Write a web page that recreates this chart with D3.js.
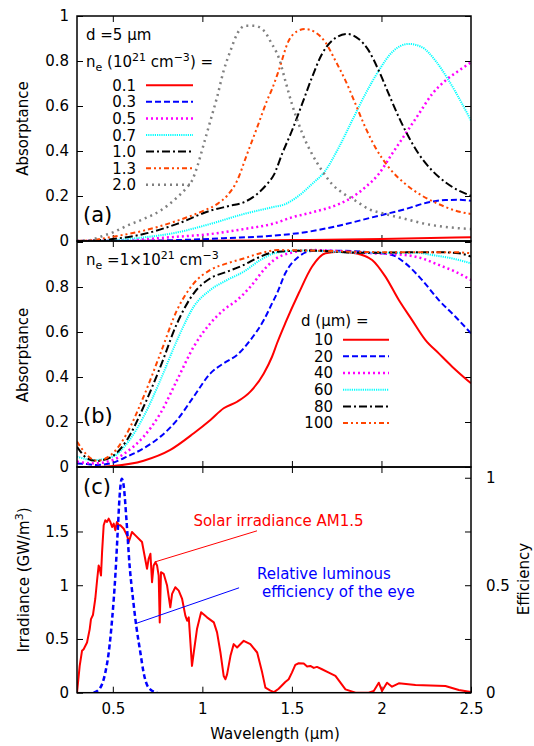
<!DOCTYPE html>
<html><head><meta charset="utf-8">
<script src="https://cdn.jsdelivr.net/npm/d3@7"></script>
<style>body{margin:0;background:#fff} text{font-family:"DejaVu Sans",sans-serif}</style>
</head><body><svg id="c" width="534" height="746"></svg>
<script>
// ---------- DATA ----------
const xTickVals = [0.5, 1, 1.5, 2];
const xTickLabels = [0.5, 1, 1.5, 2, 2.5];
const yTicksA = [0, 0.2, 0.4, 0.6, 0.8, 1];
const yTicksB = [0, 0.2, 0.4, 0.6, 0.8, 1];
const yLabelsB = [0, 0.2, 0.4, 0.6, 0.8];
const yTicksC = [0, 0.5, 1, 1.5];
const yTicksCR = [0, 0.25, 0.5, 0.75, 1];
const yLabelsCR = [0, 0.5, 1];

// panel (a): d = 5 um, n_e in 1e21 cm^-3
const neLabels = ["0.1", "0.3", "0.5", "0.7", "1.0", "1.3", "2.0"];
const a01 = [[0.30,0.0],[1.0,0.001],[1.5,0.004],[2.0,0.009],[2.5,0.017]];
const a03 = [[0.30,0.0],[0.50,0.0],[0.859,0.004],[1.138,0.013],[1.40,0.024],[1.575,0.039],[1.762,0.068],[1.948,0.105],[2.134,0.142],[2.264,0.172],[2.357,0.182],[2.43,0.183],[2.50,0.179]];
const a05 = [[0.30,0.0],[0.50,0.001],[0.859,0.019],[1.045,0.031],[1.231,0.053],[1.40,0.078],[1.50,0.105],[1.612,0.127],[1.762,0.164],[1.836,0.194],[1.91,0.239],[1.985,0.298],[2.059,0.387],[2.134,0.476],[2.208,0.564],[2.283,0.653],[2.357,0.713],[2.432,0.757],[2.50,0.794]];
const a07 = [[0.30,0.0],[0.356,0.0],[0.50,0.004],[0.672,0.016],[0.859,0.038],[1.045,0.076],[1.231,0.12],[1.389,0.15],[1.463,0.164],[1.538,0.201],[1.612,0.253],[1.687,0.313],[1.762,0.416],[1.836,0.535],[1.91,0.653],[1.985,0.757],[2.059,0.839],[2.153,0.876],[2.227,0.861],[2.302,0.801],[2.376,0.713],[2.451,0.609],[2.50,0.535]];
const a10 = [[0.30,0.0],[0.356,0.001],[0.50,0.009],[0.672,0.031],[0.859,0.076],[1.045,0.135],[1.157,0.157],[1.231,0.172],[1.306,0.209],[1.361,0.253],[1.40,0.295],[1.445,0.387],[1.50,0.49],[1.557,0.609],[1.612,0.727],[1.668,0.831],[1.724,0.89],[1.808,0.92],[1.873,0.898],[1.929,0.846],[1.985,0.757],[2.041,0.653],[2.097,0.55],[2.153,0.461],[2.208,0.387],[2.283,0.313],[2.357,0.261],[2.432,0.224],[2.50,0.201]];
const a13 = [[0.30,0.0],[0.356,0.002],[0.50,0.019],[0.672,0.046],[0.859,0.09],[1.008,0.135],[1.082,0.164],[1.138,0.201],[1.194,0.268],[1.25,0.387],[1.306,0.505],[1.361,0.624],[1.389,0.675],[1.426,0.757],[1.482,0.89],[1.529,0.932],[1.575,0.942],[1.631,0.927],[1.687,0.883],[1.743,0.801],[1.799,0.713],[1.855,0.609],[1.91,0.505],[1.966,0.416],[2.041,0.327],[2.134,0.253],[2.227,0.201],[2.32,0.164],[2.413,0.135],[2.50,0.12]];
const a20 = [[0.30,0.0],[0.356,0.002],[0.449,0.024],[0.50,0.038],[0.579,0.068],[0.672,0.098],[0.766,0.135],[0.859,0.194],[0.915,0.239],[0.942,0.268],[0.97,0.327],[1.008,0.431],[1.045,0.535],[1.082,0.639],[1.119,0.757],[1.157,0.846],[1.194,0.92],[1.24,0.957],[1.287,0.957],[1.343,0.935],[1.385,0.88],[1.426,0.816],[1.463,0.713],[1.50,0.609],[1.538,0.52],[1.575,0.446],[1.612,0.387],[1.668,0.313],[1.724,0.253],[1.78,0.215],[1.855,0.179],[1.929,0.142],[2.022,0.12],[2.134,0.098],[2.246,0.076],[2.376,0.061],[2.50,0.053]];

// panel (b): n_e = 1e21 cm^-3, d in um
const dLabels = ["10", "20", "40", "60", "80", "100"];
const b10 = [[0.30,0.0],[0.41,0.0],[0.50,0.004],[0.672,0.028],[0.821,0.076],[0.952,0.15],[1.045,0.209],[1.119,0.261],[1.194,0.29],[1.268,0.335],[1.343,0.416],[1.389,0.49],[1.417,0.55],[1.463,0.639],[1.538,0.772],[1.612,0.89],[1.687,0.95],[1.761,0.957],[1.855,0.95],[1.948,0.92],[2.022,0.846],[2.097,0.742],[2.171,0.653],[2.246,0.564],[2.32,0.505],[2.395,0.446],[2.50,0.372]];
const b20 = [[0.30,0.016],[0.356,0.013],[0.41,0.009],[0.50,0.019],[0.579,0.046],[0.672,0.083],[0.766,0.135],[0.859,0.209],[0.952,0.313],[1.045,0.416],[1.119,0.461],[1.194,0.498],[1.268,0.564],[1.343,0.653],[1.389,0.727],[1.417,0.772],[1.463,0.861],[1.538,0.935],[1.612,0.96],[1.761,0.961],[1.948,0.953],[2.059,0.942],[2.134,0.905],[2.227,0.831],[2.32,0.742],[2.413,0.668],[2.50,0.594]];
const b40 = [[0.30,0.024],[0.393,0.016],[0.50,0.031],[0.579,0.068],[0.672,0.135],[0.766,0.239],[0.859,0.387],[0.952,0.535],[1.045,0.639],[1.119,0.698],[1.194,0.742],[1.268,0.801],[1.343,0.876],[1.40,0.92],[1.50,0.953],[1.612,0.964],[1.948,0.95],[2.134,0.942],[2.227,0.927],[2.32,0.898],[2.413,0.868],[2.50,0.831]];
const b60 = [[0.30,0.046],[0.393,0.031],[0.50,0.046],[0.579,0.105],[0.672,0.224],[0.766,0.387],[0.859,0.564],[0.952,0.713],[1.045,0.787],[1.138,0.831],[1.231,0.868],[1.324,0.92],[1.417,0.953],[1.55,0.962],[1.9,0.952],[2.2,0.952],[2.283,0.942],[2.395,0.927],[2.50,0.905]];
const b80 = [[0.30,0.09],[0.356,0.039],[0.41,0.027],[0.50,0.049],[0.579,0.12],[0.672,0.268],[0.766,0.446],[0.859,0.639],[0.952,0.772],[1.045,0.839],[1.138,0.868],[1.231,0.898],[1.324,0.935],[1.417,0.957],[1.6,0.962],[1.9,0.952],[2.3,0.955],[2.432,0.95],[2.50,0.935]];
const b100 = [[0.30,0.113],[0.356,0.053],[0.41,0.028],[0.50,0.061],[0.579,0.15],[0.672,0.313],[0.766,0.505],[0.859,0.698],[0.952,0.816],[1.045,0.876],[1.138,0.905],[1.231,0.927],[1.324,0.95],[1.417,0.964],[1.6,0.962],[2.0,0.955],[2.4,0.955],[2.50,0.95]];

// panel (c): solar irradiance AM1.5 (GW/m^3) and relative luminous efficiency
const solar = [[0.30,0],[0.315,0.25],[0.328,0.39],[0.337,0.405],[0.356,0.467],[0.371,0.592],[0.378,0.685],[0.389,0.723],[0.402,0.872],[0.412,1.044],[0.421,1.184],[0.427,1.153],[0.434,1.09],[0.44,1.308],[0.449,1.558],[0.458,1.604],[0.468,1.589],[0.477,1.62],[0.486,1.589],[0.496,1.542],[0.505,1.573],[0.514,1.511],[0.523,1.589],[0.533,1.558],[0.542,1.558],[0.561,1.526],[0.579,1.464],[0.589,1.402],[0.598,1.449],[0.607,1.495],[0.626,1.464],[0.663,1.402],[0.691,1.153],[0.70,1.246],[0.71,1.293],[0.719,1.028],[0.728,1.184],[0.738,1.215],[0.747,1.184],[0.756,1.09],[0.762,0.654],[0.769,1.121],[0.784,1.106],[0.803,0.997],[0.821,0.794],[0.831,0.919],[0.849,0.981],[0.868,0.95],[0.887,0.872],[0.905,0.717],[0.915,0.67],[0.924,0.701],[0.942,0.249],[0.952,0.374],[0.97,0.592],[0.993,0.748],[1.026,0.701],[1.064,0.654],[1.082,0.561],[1.101,0.374],[1.119,0.156],[1.129,0.125],[1.138,0.171],[1.157,0.343],[1.175,0.452],[1.194,0.421],[1.231,0.483],[1.268,0.452],[1.306,0.374],[1.334,0.187],[1.352,0.047],[1.38,0.02],[1.40,0.005],[1.426,0.037],[1.463,0.1],[1.482,0.125],[1.50,0.187],[1.519,0.259],[1.538,0.274],[1.566,0.271],[1.585,0.243],[1.603,0.249],[1.622,0.231],[1.64,0.24],[1.668,0.218],[1.706,0.187],[1.743,0.156],[1.771,0.093],[1.799,0.031],[1.855,0.0],[1.929,0.0],[1.957,0.016],[1.985,0.093],[2.003,0.016],[2.031,0.093],[2.059,0.056],[2.097,0.087],[2.19,0.072],[2.357,0.062],[2.432,0.025],[2.50,0.006]];
const eyeEff = [[0.393,0],[0.43,0.023],[0.458,0.093],[0.477,0.186],[0.496,0.341],[0.514,0.543],[0.527,0.744],[0.538,0.915],[0.55,0.995],[0.561,0.961],[0.576,0.806],[0.594,0.589],[0.613,0.434],[0.631,0.31],[0.654,0.186],[0.672,0.093],[0.70,0.023],[0.747,0]];

// ---------- STYLES ----------
const stylesA = [
  {c:"#ff0000", d:null, w:2},
  {c:"#0000ff", d:"6,3", w:2},
  {c:"#ff00ff", d:"2,3", w:2.5},
  {c:"#00ffff", d:"1.2,1", w:2},
  {c:"#000000", d:"8,3,2,3", w:2},
  {c:"#ff4500", d:"5,3,2,3,2,3", w:2},
  {c:"#808080", d:"2,4", w:2.5}
];
const stylesB = [stylesA[0],stylesA[1],stylesA[2],stylesA[3],stylesA[4],stylesA[5]];

// ---------- SETUP ----------
const svg = d3.select("#c");
const FONT = "DejaVu Sans";
const L = 77, R = 471;
const x = d3.scaleLinear([0.3, 2.5], [L, R]);
const ya = d3.scaleLinear([0, 1], [241, 16]);
const yb = d3.scaleLinear([0, 1], [467, 242]);
const yc = d3.scaleLinear([0, 2.1], [692.7, 467]);
const ycr = d3.scaleLinear([0, 1.05], [692.7, 467]);

const defs = svg.append("defs");
function clip(id, y0, y1) {
  defs.append("clipPath").attr("id", id).append("rect")
    .attr("x", L).attr("y", y0).attr("width", R - L).attr("height", y1 - y0);
}
clip("ca", 16, 241); clip("cb", 241, 467); clip("cc", 467, 693);

function styleAxis(g) {
  g.select(".domain").remove();
  g.attr("font-family", FONT).attr("font-size", 15);
  g.selectAll("line").attr("stroke", "#000").attr("stroke-width", 1);
  g.selectAll("text").attr("fill", "#000");
}
function fmtSel(list) { return d => list.includes(d) ? String(d) : ""; }

function panelAxes(y, top, bot, yTicks, yLabels) {
  svg.append("g").attr("transform", `translate(0,${top})`)
    .call(d3.axisTop(x).tickValues(xTickVals).tickSize(-6).tickFormat("")).call(styleAxis);
  svg.append("g").attr("transform", `translate(0,${bot})`)
    .call(d3.axisBottom(x).tickValues(xTickVals).tickSize(-6).tickFormat("")).call(styleAxis);
  svg.append("g").attr("transform", `translate(${L},0)`)
    .call(d3.axisLeft(y).tickValues(yTicks).tickSize(-6).tickPadding(8).tickFormat(fmtSel(yLabels))).call(styleAxis);
  svg.append("g").attr("transform", `translate(${R},0)`)
    .call(d3.axisRight(y).tickValues(yTicks).tickSize(-6).tickFormat("")).call(styleAxis);
}

panelAxes(ya, 16, 241, yTicksA, yTicksA);
panelAxes(yb, 241, 467, yTicksB, yLabelsB);

// panel (c) axes
svg.append("g").attr("transform", `translate(0,467)`)
  .call(d3.axisTop(x).tickValues(xTickVals).tickSize(-6).tickFormat("")).call(styleAxis);
svg.append("g").attr("transform", `translate(0,692.7)`)
  .call(d3.axisBottom(x).tickValues(xTickLabels).tickSize(-6).tickPadding(11).tickFormat(d => String(d))).call(styleAxis);
svg.append("g").attr("transform", `translate(${L},0)`)
  .call(d3.axisLeft(yc).tickValues(yTicksC).tickSize(-6).tickPadding(8).tickFormat(d => String(d))).call(styleAxis);
svg.append("g").attr("transform", `translate(${R},0)`)
  .call(d3.axisRight(ycr).tickValues(yTicksCR).tickSize(-6).tickPadding(15).tickFormat(fmtSel(yLabelsCR))).call(styleAxis);

// ---------- CURVES ----------
function drawSeries(data, y, st, clipId, curve) {
  const line = d3.line().x(d => x(d[0])).y(d => y(d[1])).curve(curve || d3.curveMonotoneX);
  const p = svg.append("path").datum(data).attr("clip-path", `url(#${clipId})`)
    .attr("d", line).attr("fill", "none").attr("stroke", st.c).attr("stroke-width", st.w)
    .attr("stroke-linejoin", "round");
  if (st.d) p.attr("stroke-dasharray", st.d);
}
const seriesA = [a01, a03, a05, a07, a10, a13, a20];
seriesA.forEach((s, i) => drawSeries(s, ya, stylesA[i], "ca"));
const seriesB = [b10, b20, b40, b60, b80, b100];
seriesB.forEach((s, i) => drawSeries(s, yb, stylesB[i], "cb"));
drawSeries(solar, yc, {c:"#ff0000", d:null, w:2}, "cc", d3.curveLinear);
drawSeries(eyeEff, ycr, {c:"#0000ff", d:"5,3", w:2.5}, "cc", d3.curveMonotoneX);

// ---------- BORDERS ----------
[[16,241],[241,467],[467,692.7]].forEach(([t,b]) => {
  svg.append("rect").attr("x", L).attr("y", t).attr("width", R - L).attr("height", b - t)
    .attr("fill", "none").attr("stroke", "#000").attr("stroke-width", 1.5);
});

// ---------- TEXT ----------
function txt(xp, yp, s, opts = {}) {
  return svg.append("text").attr("x", xp).attr("y", yp).attr("font-family", FONT)
    .attr("font-size", opts.size || 15).attr("fill", opts.fill || "#000")
    .attr("text-anchor", opts.anchor || "start").text(s);
}
// axis titles
function vtitle(cx, cy, build) {
  const t = svg.append("text").attr("transform", `translate(${cx},${cy}) rotate(-90)`)
    .attr("font-family", FONT).attr("font-size", 15).attr("text-anchor", "middle").attr("dy", "0.35em");
  build(t);
}
vtitle(23, 128.5, t => t.text("Absorptance"));
vtitle(23, 355, t => t.text("Absorptance"));
vtitle(24, 580, t => {
  t.append("tspan").text("Irradiance (GW/m");
  t.append("tspan").attr("font-size", 11).attr("dy", -6).text("3");
  t.append("tspan").attr("dy", 6).text(")");
});
vtitle(524, 579, t => t.text("Efficiency"));
txt(275, 739, "Wavelength (μm)", {anchor: "middle"});

// panel labels
txt(83, 222, "(a)", {size: 21});
txt(83, 423, "(b)", {size: 21});
txt(83, 493.5, "(c)", {size: 21});

// legend (a)
txt(86, 40, "d =5 μm");
{
  const t = txt(86, 67, "n");
  t.append("tspan").attr("font-size", 11).attr("dy", 4).text("e");
  t.append("tspan").attr("dy", -4).text(" (10");
  t.append("tspan").attr("font-size", 11).attr("dy", -6).text("21");
  t.append("tspan").attr("dy", 6).text(" cm");
  t.append("tspan").attr("font-size", 11).attr("dy", -6).text("−3");
  t.append("tspan").attr("dy", 6).text(") =");
}
neLabels.forEach((lab, i) => {
  const by = 90.7 + i * 16.6;
  txt(136, by, lab, {anchor: "end"});
  const st = stylesA[i];
  const l = svg.append("line").attr("x1", 146).attr("x2", 193).attr("y1", by - 5.5).attr("y2", by - 5.5)
    .attr("stroke", st.c).attr("stroke-width", st.w);
  if (st.d) l.attr("stroke-dasharray", st.d);
});

// legend (b)
{
  const t = txt(86, 265, "n");
  t.append("tspan").attr("font-size", 11).attr("dy", 4).text("e");
  t.append("tspan").attr("dy", -4).text(" =1×10");
  t.append("tspan").attr("font-size", 11).attr("dy", -6).text("21");
  t.append("tspan").attr("dy", 6).text(" cm");
  t.append("tspan").attr("font-size", 11).attr("dy", -6).text("−3");
}
txt(301, 326, "d (μm) =");
dLabels.forEach((lab, i) => {
  const by = 345 + i * 16.67;
  txt(333, by, lab, {anchor: "end"});
  const st = stylesB[i];
  const l = svg.append("line").attr("x1", 343).attr("x2", 389).attr("y1", by - 5.3).attr("y2", by - 5.3)
    .attr("stroke", st.c).attr("stroke-width", st.w);
  if (st.d) l.attr("stroke-dasharray", st.d);
});

// annotations in panel (c), positioned in data units
const solarNote = {text: [0.95, 1.552], from: [0.7355, 1.217], to: [1.305, 1.506]};
const eyeNote = {line1: [1.305, 1.06], line2: [1.333, 0.892], from: [0.624, 0.641], to: [1.205, 0.976]};
txt(x(solarNote.text[0]), yc(solarNote.text[1]), "Solar irradiance AM1.5", {fill: "#ff0000"});
svg.append("line").attr("x1", x(solarNote.from[0])).attr("y1", yc(solarNote.from[1]))
  .attr("x2", x(solarNote.to[0])).attr("y2", yc(solarNote.to[1])).attr("stroke", "#ff0000").attr("stroke-width", 1);
txt(x(eyeNote.line1[0]), yc(eyeNote.line1[1]), "Relative luminous", {fill: "#0000ff"});
txt(x(eyeNote.line2[0]), yc(eyeNote.line2[1]), "efficiency of the eye", {fill: "#0000ff"});
svg.append("line").attr("x1", x(eyeNote.from[0])).attr("y1", yc(eyeNote.from[1]))
  .attr("x2", x(eyeNote.to[0])).attr("y2", yc(eyeNote.to[1])).attr("stroke", "#0000ff").attr("stroke-width", 1);
</script></body></html>
